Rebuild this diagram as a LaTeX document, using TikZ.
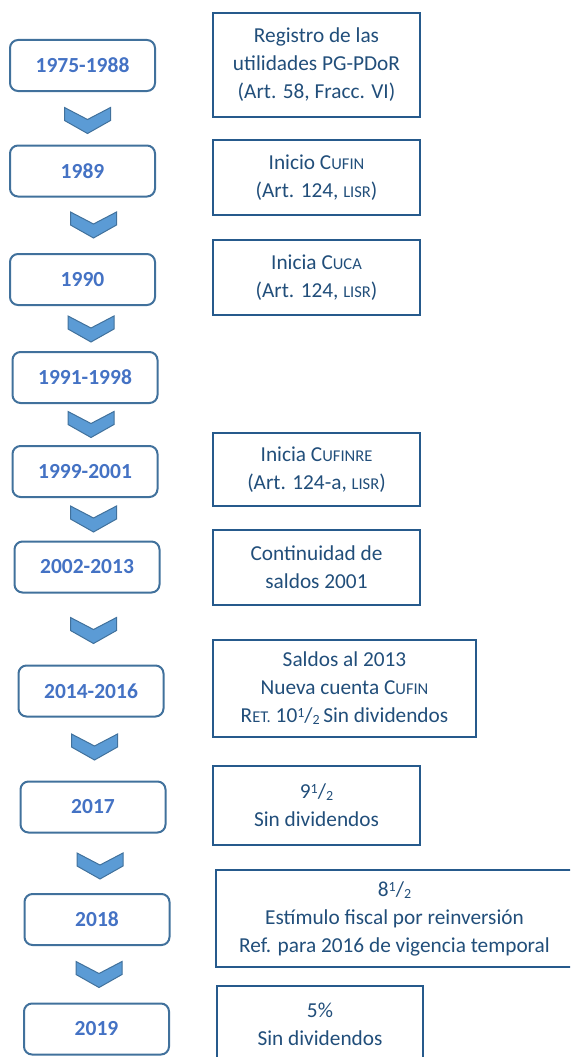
\documentclass[tikz,border=0pt]{standalone}
\usepackage{fontspec}
\setmainfont{Carlito}
\definecolor{yearline}{RGB}{65,113,156}
\definecolor{yeartext}{RGB}{68,114,196}
\definecolor{chevfill}{RGB}{91,155,213}
\definecolor{noteline}{RGB}{38,90,140}
\definecolor{notetext}{RGB}{33,78,122}
\newcommand{\smc}[1]{{\fontsize{16.5}{16}\selectfont #1}}
\newcommand{\half}{{\fontsize{14}{14}\selectfont\raisebox{5pt}{1}}/{\fontsize{14}{14}\selectfont\raisebox{-2pt}{2}}}
\newcommand{\chev}[2]{\draw[chevron,shift={(#1,#2)}] (-23,0) -- (0,12) -- (23,0) -- (23,13) -- (0,26) -- (-23,13) -- cycle;}
\tikzset{
  yearbox/.style={draw=yearline, line width=2pt, rounded corners=8pt, minimum width=145pt, minimum height=51pt, inner sep=0pt, text=yeartext, font=\fontsize{21.5}{28}\selectfont\bfseries},
  notebox/.style={draw=noteline, line width=2pt, inner sep=0pt, text=notetext, align=center, font=\fontsize{21.3}{28}\selectfont},
  chevron/.style={fill=chevfill, draw=yearline, line width=1pt},
}
\begin{document}
\begin{tikzpicture}[x=1pt,y=-1pt]
    \useasboundingbox (0,0) rectangle (570,1057);
    \clip (0,0) rectangle (570,1057);
    %years
    \node[yearbox] (y1) at (82.5,65.5) {1975-1988};
    \node[yearbox] (y2) at (82.5,171) {1989};
    \node[yearbox] (y3) at (82.5,279.5) {1990};
    \node[yearbox] (y4) at (85,377.5) {1991-1998};
    \node[yearbox] (y5) at (85,471.5) {1999-2001};
    \node[yearbox] (y6) at (87,567) {2002-2013};
    \node[yearbox] (y7) at (91,691) {2014-2016};
    \node[yearbox] (y8) at (93,807) {2017};
    \node[yearbox] (y9) at (97,919.5) {2018};
    \node[yearbox] (y10) at (96.5,1029) {2019};

    %chevrons
    \chev{87.5}{107.5}
    \chev{93.5}{212}
    \chev{91}{316}
    \chev{91}{411.5}
    \chev{93.5}{506}
    \chev{93.5}{617.5}
    \chev{94.5}{734}
    \chev{100}{853}
    \chev{99}{961.5}

    %notes
    \node[notebox, minimum width=207pt, minimum height=104pt] (n1) at (316.5,65) {Registro de las\\utilidades PG-PDoR\\(Art. 58, Fracc. VI)};
    \node[notebox, minimum width=207pt, minimum height=75pt] (n2) at (316.5,177.5) {Inicio C\smc{UFIN}\\(Art. 124, \smc{LISR})};
    \node[notebox, minimum width=207pt, minimum height=75pt] (n3) at (316.5,277.5) {Inicia C\smc{UCA}\\(Art. 124, \smc{LISR})};
    \node[notebox, minimum width=207pt, minimum height=73pt] (n4) at (316.5,469.5) {Inicia C\smc{UFINRE}\\(Art. 124-a, \smc{LISR})};
    \node[notebox, minimum width=207pt, minimum height=75pt] (n5) at (316.5,567.5) {Continuidad de\\saldos 2001};
    \node[notebox, minimum width=263pt, minimum height=97pt] (n6) at (344.5,688.5) {Saldos al 2013\\Nueva cuenta C\smc{UFIN}\\R\smc{ET.} 10\half\,Sin dividendos};
    \node[notebox, minimum width=207pt, minimum height=79pt] (n7) at (316.5,805.5) {9\half\\Sin dividendos};
    \node[notebox, minimum width=358pt, minimum height=97pt] (n8) at (394.5,918.5) {8\half\\Estímulo fiscal por reinversión\\Ref. para 2016 de vigencia temporal};
    \node[notebox, minimum width=206pt, minimum height=76pt] (n9) at (320,1024) {5\%\\Sin dividendos};
\end{tikzpicture}
\end{document}
